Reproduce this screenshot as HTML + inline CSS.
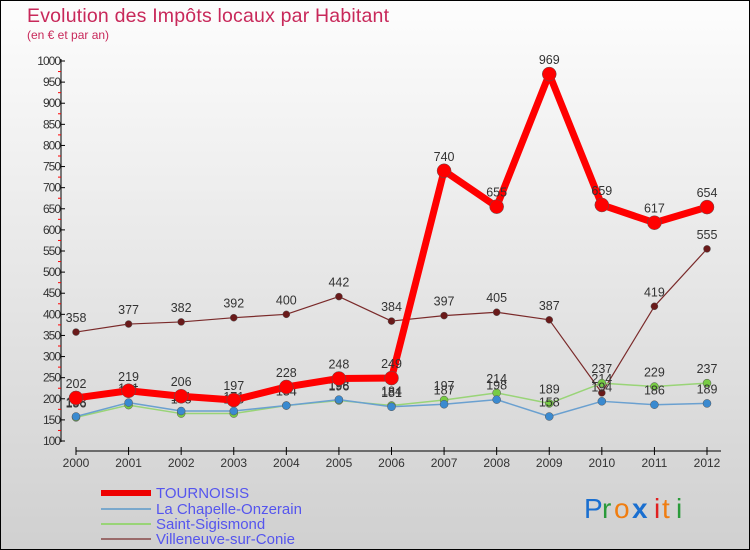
<!DOCTYPE html>
<html><head><meta charset="utf-8"><style>
body{margin:0;}
#c{position:relative;width:748px;height:548px;border:1px solid #000;background:linear-gradient(#fdfdfd,#d0d0d0);font-family:"Liberation Sans",sans-serif;overflow:hidden;}
</style></head><body>
<div id="c">
<svg id="s" width="748" height="548" font-family="Liberation Sans, sans-serif">
<text x="26" y="21" font-size="19.5" fill="#c8285a" textLength="362">Evolution des Impôts locaux par Habitant</text>
<text x="26" y="38" font-size="12" fill="#c8285a">(en € et par an)</text>
<g id="axes"></g><g id="series"></g>
<g>
<line x1="100" y1="492" x2="150" y2="492" stroke="#e00" stroke-width="6"/>
<text x="155" y="497" font-size="15" fill="#5555ee">TOURNOISIS</text>
<line x1="100" y1="508" x2="150" y2="508" stroke="#7aa8cc" stroke-width="2"/>
<text x="155" y="513" font-size="15" fill="#5555ee">La Chapelle-Onzerain</text>
<line x1="100" y1="523" x2="150" y2="523" stroke="#99d477" stroke-width="2"/>
<text x="155" y="528" font-size="15" fill="#5555ee">Saint-Sigismond</text>
<line x1="100" y1="538" x2="150" y2="538" stroke="#9a6b6b" stroke-width="2"/>
<text x="155" y="543" font-size="15" fill="#5555ee">Villeneuve-sur-Conie</text>
</g>
<g font-size="28">
<text x="583" y="517" fill="#1a6fd0">P</text><text x="601" y="517" fill="#2a9a3a">r</text><text x="613" y="517" fill="#f07d10">o</text><text x="631" y="517" fill="#1a6fd0" font-weight="bold">x</text><text x="653" y="517" fill="#e02020">i</text><text x="661" y="517" fill="#f07d10">t</text><text x="675" y="517" fill="#2a9a3a">i</text>
</g>
</svg>
</div>
<script>
const years=["2000","2001","2002","2003","2004","2005","2006","2007","2008","2009","2010","2011","2012"];
const tournoisis=[202,219,206,197,228,248,249,740,655,969,659,617,654];
const chapelle=[158,191,171,171,184,198,181,187,198,158,194,186,189];
const sigismond=[156,185,165,165,184,196,184,197,214,189,237,229,237];
const villeneuve=[358,377,382,392,400,442,384,397,405,387,214,419,555];
const yTicks=[100,150,200,250,300,350,400,450,500,550,600,650,700,750,800,850,900,950,1000];
const NS="http://www.w3.org/2000/svg";
const X=i=>75+i*(706-75)/(years.length-1);
const Y=v=>440-(v-100)*380/900;
function mk(tag,attrs,parent){const e=document.createElementNS(NS,tag);for(const k in attrs)e.setAttribute(k,attrs[k]);parent.appendChild(e);return e;}
const ax=document.getElementById('axes');
const yl=mk('line',{x1:60,y1:58,x2:60,y2:441,stroke:'#000'},ax);


yTicks.forEach(v=>{
  mk('line',{x1:60,y1:Y(v),x2:64,y2:Y(v),stroke:'#000'},ax);
  if(v<1000)mk('line',{x1:57,y1:Y(v+25),x2:60,y2:Y(v+25),stroke:'#f00'},ax);
  const t=mk('text',{x:59,y:Y(v)+4,'font-size':12,'text-anchor':'end',fill:'#333','letter-spacing':'-1'},ax);
  t.textContent=v;
  
  
});
const xl=mk('line',{x1:75,y1:450,x2:720,y2:450,stroke:'#000'},ax);


years.forEach((y,i)=>{
  mk('line',{x1:X(i),y1:446,x2:X(i),y2:454,stroke:'#000'},ax);
  const t=mk('text',{x:X(i),y:466,'font-size':12,'text-anchor':'middle',fill:'#333'},ax);
  t.textContent=y;
  
  
});
const sg=document.getElementById('series');
function series(vals,name,color,w,r,dot){
  const g=mk('g',{},sg);
  
  
  const pl=mk('polyline',{points:vals.map((v,i)=>X(i)+','+Y(v)).join(' '),fill:'none',stroke:color,'stroke-width':w,'stroke-linejoin':'round'},g);
  
  
  vals.forEach((v,i)=>{
    const c=mk('circle',{cx:X(i),cy:Y(v),r:r,fill:dot,stroke:'#555','stroke-width':0.5},g);
    
    
    const t=mk('text',{x:X(i),y:Y(v)-10,'font-size':12.5,'text-anchor':'middle',fill:'#333'},g);
    t.textContent=v;
    
    
  });
}
series(villeneuve,'villeneuve','#7a2a2a',1.2,3.5,'#6a1a1a');
series(sigismond,'saint-sigismond','#99d477',1.5,4,'#77cc44');
series(chapelle,'la-chapelle','#6aa0d0',1.5,4,'#3a8ad0');
series(tournoisis,'tournoisis','#f00',7,7,'#f00');
</script>
</body></html>
